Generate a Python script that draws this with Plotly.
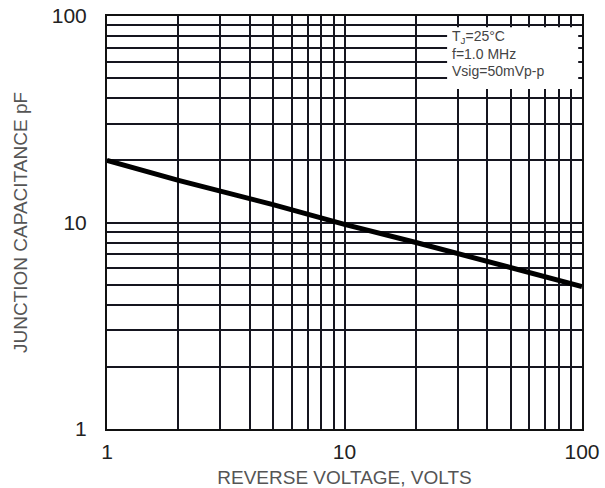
import plotly.graph_objects as go

# Data
voltage = [1, 2, 5, 10, 20, 50, 100]
capacitance = [20.0, 16.0, 12.2, 9.8, 8.0, 6.1, 4.9]

major_vals = [1, 10, 100]
major_text = ["1", "10", "100"]
minor_vals = [2, 3, 4, 5, 6, 7, 8, 9, 20, 30, 40, 50, 60, 70, 80, 90]

cond_lines = ["T<sub>J</sub>=25°C", "f=1.0 MHz", "Vsig=50mVp-p"]

fig = go.Figure()
fig.add_trace(go.Scatter(
    x=voltage, y=capacitance, mode="lines",
    line=dict(color="black", width=5), showlegend=False, hoverinfo="skip"))

grid_color = "#15151f"
axis_common = dict(
    type="log", tickmode="array", tickvals=major_vals, ticktext=major_text,
    showgrid=True, gridcolor=grid_color, gridwidth=1.6,
    minor=dict(tickmode="array", tickvals=minor_vals, showgrid=True,
               gridcolor=grid_color, gridwidth=1.6, ticks=""),
    showline=True, linecolor="#111", linewidth=2, mirror=True,
    ticks="", zeroline=False, automargin=False, ticklabeloverflow="allow",
    tickfont=dict(family="Liberation Sans, Arial", size=21, color="#222"),
)

fig.update_xaxes(**axis_common, range=[0, 2], ticklabelstandoff=3,
                 title=dict(text="REVERSE VOLTAGE, VOLTS", standoff=10,
                            font=dict(family="Liberation Sans, Arial", size=19, color="#555")))
fig.update_yaxes(**axis_common, range=[0, 2], ticklabelstandoff=14,
                 title=dict(text="JUNCTION CAPACITANCE pF", standoff=19,
                            font=dict(family="Liberation Sans, Arial", size=19, color="#555")))

# White box behind the test conditions
fig.add_shape(type="rect", xref="paper", yref="paper",
              x0=0.716, x1=0.992, y0=0.823, y1=0.973,
              fillcolor="white", line=dict(width=0), layer="above")

for i, txt in enumerate(cond_lines):
    fig.add_annotation(xref="paper", yref="paper", x=0.722, y=0.948 - i * 0.041,
                       xanchor="left", yanchor="middle", text=txt, showarrow=False,
                       font=dict(family="Liberation Sans, Arial", size=14, color="#444"))

fig.update_layout(
    width=605, height=488,
    margin=dict(l=107, r=23, t=16, b=59, autoexpand=False),
    paper_bgcolor="white", plot_bgcolor="white",
)

fig.write_html(
    "out.html",
    config={"displayModeBar": False},
    post_script="document.body.style.margin='0';document.body.style.overflow='hidden';",
)
